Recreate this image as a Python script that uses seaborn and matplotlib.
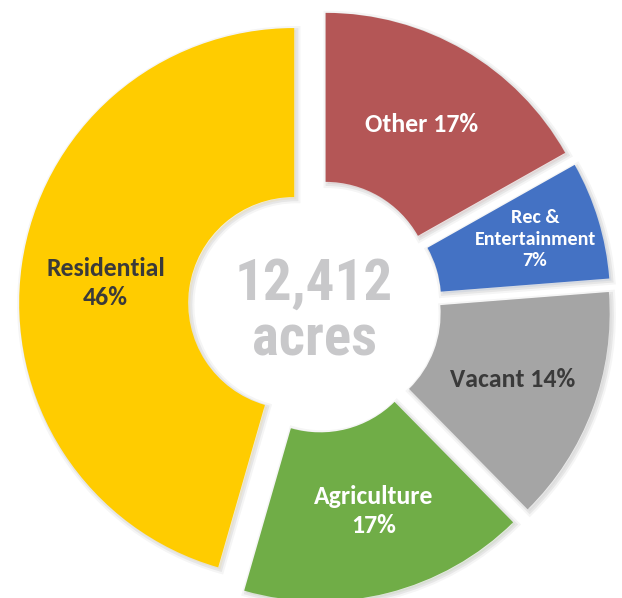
import matplotlib
matplotlib.use('Agg')
import os
import matplotlib.pyplot as plt
import matplotlib.patheffects as pe
from matplotlib import font_manager
import seaborn as sns
import numpy as np

# land use shares, clockwise from 12 o'clock
categories = ['Other', 'Rec & Entertainment', 'Vacant', 'Agriculture', 'Residential']
shares = [17, 7, 14, 17, 46]
label_texts = ['Other 17%', 'Rec &\nEntertainment\n7%', 'Vacant 14%', 'Agriculture\n17%', 'Residential\n46%']
colors = ['#B45656', '#4472C4', '#A5A5A5', '#70AD47', '#FFCC00']
text_colors = ['white', 'white', '#3A3A3A', 'white', '#3A3A3A']
total_acres = '12,412'
total_unit = 'acres'

sns.set_theme(style='white')
plt.rcParams['font.family'] = ['Lato', 'DejaVu Sans']


def find_font(patterns):
    files = [f.fname for f in font_manager.fontManager.ttflist]
    for p in patterns:
        for fn in files:
            if os.path.basename(fn).lower().startswith(p):
                return fn
    return None


narrow_file = find_font(['robotocondensed-bold', 'liberationsansnarrow-bold', 'pt_sans-narrow-web-bold'])
label_file = find_font(['carlito-bold'])


def label_font(size):
    if label_file:
        return dict(fontproperties=font_manager.FontProperties(fname=label_file, size=size))
    return dict(fontsize=size * 0.88, fontweight='bold')


if narrow_file:
    big_font = dict(fontproperties=font_manager.FontProperties(fname=narrow_file, size=41))
else:
    big_font = dict(fontsize=38, fontweight='bold', family='DejaVu Sans')

fig = plt.figure(figsize=(6.22, 5.98), dpi=100)
ax = fig.add_axes([0, 0, 1, 1])

R = 275
center = (315, 292)
wedges, _ = ax.pie(shares, colors=colors, startangle=90, counterclock=False,
                   radius=R, center=center, explode=[21] * len(shares),
                   wedgeprops=dict(width=169, linewidth=0))
ax.set_xlim(0, 622)
ax.set_ylim(0, 598)
ax.axis('off')

shadow = [pe.Stroke(offset=(1.5, -1.5), linewidth=6, foreground='black', alpha=0.04),
          pe.Stroke(offset=(1.5, -1.5), linewidth=3, foreground='black', alpha=0.06),
          pe.Normal()]
for w in wedges:
    w.set_path_effects(shadow)

# labels sit inside the ring, near each wedge's mid angle
dists = [0.69, 0.76, 0.69, 0.70, 0.69]
nudge = [0, 0, 0, 2, 2]
sizes = [18.5, 14.5, 18.5, 18.5, 18.5]
for w, txt, col, d, dn, fs in zip(wedges, label_texts, text_colors, dists, nudge, sizes):
    ang = np.deg2rad((w.theta1 + w.theta2) / 2 + dn)
    cx, cy = w.center
    ax.text(cx + d * R * np.cos(ang), cy + d * R * np.sin(ang), txt,
            ha='center', va='center', color=col, linespacing=1.3, **label_font(fs))

ax.text(center[0] - 1, center[1] + 6, total_acres, ha='center', va='baseline',
        color='#C8C8CA', **big_font)
ax.text(center[0] - 1, center[1] - 49, total_unit, ha='center', va='baseline',
        color='#C8C8CA', **big_font)

fig.savefig('out.png', dpi=100, facecolor='white')
